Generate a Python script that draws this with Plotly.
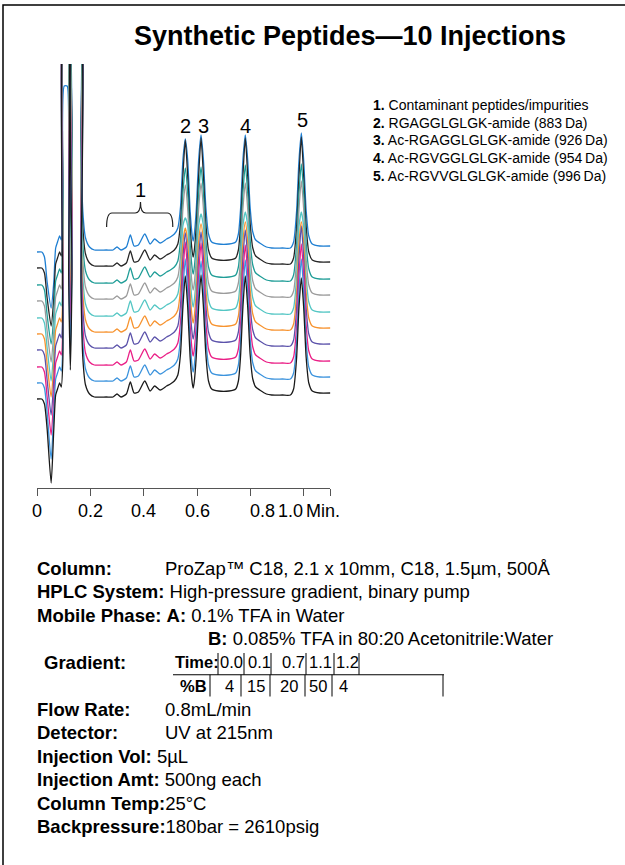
import plotly.graph_objects as go

# ------------------------------------------------------------------ data
# retention-time grid of the chromatogram (min) and the signal of the
# lowest injection above its own baseline (detector units)
time_min = [0.000, 0.018, 0.028, 0.038, 0.053, 0.063, 0.070, 0.077, 0.085, 0.091,
            0.097, 0.102, 0.113, 0.119, 0.125, 0.131, 0.137, 0.159, 0.165, 0.172,
            0.182, 0.197, 0.215, 0.260, 0.285, 0.300, 0.315, 0.335, 0.350, 0.364,
            0.380, 0.404, 0.424, 0.441, 0.462, 0.486, 0.500, 0.515, 0.528, 0.538,
            0.547, 0.556, 0.565, 0.574, 0.582, 0.5855, 0.589, 0.597, 0.606, 0.615,
            0.624, 0.633, 0.643, 0.655, 0.680, 0.720, 0.745, 0.755, 0.763, 0.772,
            0.781, 0.790, 0.799, 0.809, 0.820, 0.835, 0.860, 0.880, 0.920, 0.950,
            0.962, 0.973, 0.982, 0.991, 1.000, 1.009, 1.019, 1.032, 1.060, 1.100]
signal = [0, 0, -5, -30, -84, -30, 4, 10, 16, 12,
          40, 400, 400, 120, 29, 120, 400, 400, 110, 40,
          14, 5, 2, 2, 2, 5, 2, 5, 17, 6,
          7, 18, 8, 13, 9, 13, 15, 18, 24, 45,
          92, 122, 92, 42, 16, 11, 16, 42, 92, 122,
          92, 45, 18, 10, 8, 8, 10, 18, 42, 92,
          123, 92, 45, 20, 12, 9, 5, 4, 4, 4,
          10, 40, 91, 121, 91, 42, 16, 8, 6, 6]

# 10 injections, listed from the lowest trace to the top trace
injection_offset = [89, 105, 121, 138, 154, 170, 187, 203, 220, 236]
dip_depth = [84, 76, 68, 65, 63, 63, 61, 59, 58, 56]
void_peak_height = [400, 400, 400, 400, 400, 400, 400, 400, 400, 166]
peak_apex = [  # peaks 2, 3, 4, 5
    [123, 124, 123, 121],
    [124, 122, 123, 124],
    [125, 124, 122, 123],
    [117, 118, 120, 124],
    [106, 110, 112, 112],
    [100, 104, 106, 106],
    [116, 118, 118, 120],
    [117, 118, 120, 121],
    [128, 130, 130, 131],
    [113, 117, 117, 119],
]
trace_colors = ["#1a1a1a", "#3b93dd", "#ea1f86", "#5b52aa", "#f7932f",
                "#54c6c4", "#9b9b9b", "#1f9d97", "#262626", "#1f7fd2"]

tick_vals = [0, 0.2, 0.4, 0.6, 0.8, 1.0, 1.1]
tick_label_text = ["0", "0.2", "0.4", "0.6", "0.8", "1.0"]
tick_label_at = [0, 0.2, 0.4, 0.6, 0.844, 0.949]

peak_numbers = ["2", "3", "4", "5"]
peak_number_time = [0.558, 0.625, 0.780, 0.997]
peak_number_level = [362, 362, 362, 368]

legend_num = ["1.", "2.", "3.", "4.", "5."]
legend_txt = ["Contaminant peptides/impurities",
              "RGAGGLGLGK-amide (883\u2009Da)",
              "Ac-RGAGGLGLGK-amide (926\u2009Da)",
              "Ac-RGVGGLGLGK-amide (954\u2009Da)",
              "Ac-RGVVGLGLGK-amide (996\u2009Da)"]

cond_labels = ["Column:", "HPLC System:", "Mobile Phase:", "", "Gradient:", "",
               "Flow Rate:", "Detector:", "Injection Vol:", "Injection Amt:",
               "Column Temp:", "Backpressure:"]
cond_values = ["ProZap\u2122 C18, 2.1 x 10mm, C18, 1.5\u00b5m, 500\u00c5",
               " High-pressure gradient, binary pump",
               " <b>A:</b> 0.1% TFA in Water",
               "<b>B:</b> 0.085% TFA in 80:20\u2009Acetonitrile:Water",
               "", "",
               "0.8mL/min", "UV at 215nm", " 5\u00b5L", " 500ng each",
               "25\u00b0C", "180bar = 2610psig"]
grad_time = ["0.0", "0.1", "0.7", "1.1", "1.2"]
grad_B = ["4", "15", "20", "50", "4"]

# ------------------------------------------------------------------ layout helpers
W, H = 625, 865
FONT = "Liberation Sans, Arial, Helvetica, sans-serif"


def px(x):
    return x / W


def py(y):
    return 1 - y / H


i_dip = time_min.index(0.053)
i_void = [time_min.index(0.102), time_min.index(0.113)]
i_apex = [time_min.index(t) for t in (0.556, 0.615, 0.781, 0.991)]

fig = go.Figure()
order = list(range(len(injection_offset)))[::-1]  # top trace drawn first
for k in order:
    h = list(signal)
    h[i_dip] = -dip_depth[k]
    for i in i_void:
        h[i] = void_peak_height[k]
    for j, i in enumerate(i_apex):
        h[i] = peak_apex[k][j]
    y = [injection_offset[k] + v for v in h]
    fig.add_trace(go.Scatter(
        x=time_min, y=y, mode="lines",
        line=dict(color=trace_colors[k], width=1.3, shape="spline", smoothing=0.6),
        hoverinfo="skip", showlegend=False))

x0 = 37.0
x1 = x0 + 293.4
y_top, y_bot = 64, 488
dom = [px(x0), px(x1)]
fig.update_layout(
    width=W, height=H, margin=dict(l=0, r=0, t=0, b=0),
    paper_bgcolor="white", plot_bgcolor="white", showlegend=False,
    font=dict(family=FONT, color="black"),
    xaxis=dict(domain=dom, range=[0, 1.1], showgrid=False,
               zeroline=False, showline=True, linecolor="#555", linewidth=1,
               ticks="outside", ticklen=7, tickcolor="#555", tickwidth=1,
               tickvals=tick_vals, showticklabels=False),
    yaxis=dict(domain=[1 - y_bot / H, 1 - y_top / H], range=[0, 424],
               visible=False),
)

ann = []
shapes = []
# x tick labels (set by the axis scale)
for t, lab in zip(tick_label_at, tick_label_text):
    ann.append(dict(text=lab, x=t, y=py(511), xref="x", yref="paper", showarrow=False,
                    xanchor="center", yanchor="middle", font=dict(size=18, family=FONT)))
ann.append(dict(text="Min.", x=px(304), y=py(511), xref="paper", yref="paper",
                showarrow=False, xanchor="left", yanchor="middle",
                font=dict(size=18, family=FONT)))
# frame
shapes.append(dict(type="rect", xref="paper", yref="paper",
                   x0=px(3), x1=px(660), y0=py(900), y1=py(5),
                   line=dict(color="black", width=1.5)))
# title
ann.append(dict(text="<b>Synthetic Peptides\u201410 Injections</b>", x=px(350), y=py(36),
                xref="paper", yref="paper", showarrow=False, xanchor="center",
                yanchor="middle", font=dict(size=27, family=FONT)))
# bracket over the impurities
shapes.append(dict(type="path", xref="x", yref="y",
                   path="M 0.261,261 Q 0.261,275 0.281,275 L 0.368,275 "
                        "Q 0.388,275 0.388,286 Q 0.388,275 0.408,275 "
                        "L 0.489,275 Q 0.509,275 0.509,261",
                   line=dict(color="#222", width=1.2)))
ann.append(dict(text="1", x=0.389, y=298, xref="x", yref="y", showarrow=False,
                xanchor="center", yanchor="middle", font=dict(size=20, family=FONT)))
for lab, t, lv in zip(peak_numbers, peak_number_time, peak_number_level):
    ann.append(dict(text=lab, x=t, y=lv, xref="x", yref="y", showarrow=False,
                    xanchor="center", yanchor="middle", font=dict(size=20, family=FONT)))
# peak legend
for i, (n, t) in enumerate(zip(legend_num, legend_txt)):
    ann.append(dict(text=f"<b>{n}</b> {t}", x=px(371), y=py(105 + 17.7 * i),
                    xref="paper", yref="paper", showarrow=False, xanchor="left",
                    yanchor="middle", font=dict(size=14, family=FONT)))
# conditions block
FS = 18.5
rows = [568 + 23.5 * i for i in range(12)]
value_x = [163, None, None, 206, None, None, 163, 163, None, None, None, None]
LX = 35
for i, (lab, val) in enumerate(zip(cond_labels, cond_values)):
    if lab and val and value_x[i] is not None:
        ann.append(dict(text=f"<b>{lab}</b>", x=px(LX), y=py(rows[i]), xref="paper",
                        yref="paper", showarrow=False, xanchor="left", yanchor="middle",
                        font=dict(size=FS, family=FONT)))
        ann.append(dict(text=val, x=px(value_x[i]), y=py(rows[i]), xref="paper",
                        yref="paper", showarrow=False, xanchor="left", yanchor="middle",
                        font=dict(size=FS, family=FONT)))
    elif lab and val:
        ann.append(dict(text=f"<b>{lab}</b>{val}", x=px(LX), y=py(rows[i]),
                        xref="paper", yref="paper", showarrow=False, xanchor="left",
                        yanchor="middle", font=dict(size=FS, family=FONT)))
    elif val:
        ann.append(dict(text=val, x=px(value_x[i]), y=py(rows[i]), xref="paper",
                        yref="paper", showarrow=False, xanchor="left", yanchor="middle",
                        font=dict(size=FS, family=FONT)))
# gradient table
r_t, r_b = rows[4], rows[5]
TS = 16.5
ann.append(dict(text="<b>Gradient:</b>", x=px(42), y=py(r_t), xref="paper", yref="paper",
                showarrow=False, xanchor="left", yanchor="middle", font=dict(size=FS)))
ann.append(dict(text="<b>Time:</b>", x=px(173), y=py(r_t), xref="paper", yref="paper",
                showarrow=False, xanchor="left", yanchor="middle", font=dict(size=TS)))
ann.append(dict(text="<b>%B</b>", x=px(178), y=py(r_b), xref="paper", yref="paper",
                showarrow=False, xanchor="left", yanchor="middle", font=dict(size=TS)))
time_cx = [231, 259, 293, 321, 347]
b_cx = [229, 256, 289, 318, 343]
for v, cx in zip(grad_time, time_cx):
    ann.append(dict(text=v, x=px(cx), y=py(r_t), xref="paper", yref="paper",
                    showarrow=False, xanchor="center", yanchor="middle", font=dict(size=TS)))
for v, cx in zip(grad_B, b_cx):
    ann.append(dict(text=v, x=px(cx), y=py(r_b), xref="paper", yref="paper",
                    showarrow=False, xanchor="center", yanchor="middle", font=dict(size=TS)))
mid = (r_t + r_b) / 2 + 1
shapes.append(dict(type="line", xref="paper", yref="paper", x0=px(173), x1=px(444),
                   y0=py(mid), y1=py(mid), line=dict(color="black", width=1)))
for bx in [218, 244, 271, 306, 334, 359]:
    shapes.append(dict(type="line", xref="paper", yref="paper", x0=px(bx), x1=px(bx),
                       y0=py(r_t - 9), y1=py(mid), line=dict(color="black", width=1)))
for bx in [210, 241, 270, 305, 332, 443]:
    shapes.append(dict(type="line", xref="paper", yref="paper", x0=px(bx), x1=px(bx),
                       y0=py(mid), y1=py(r_b + 11), line=dict(color="black", width=1)))

fig.update_layout(annotations=ann, shapes=shapes)
fig.write_html("out.html", config={"displayModeBar": False},
               post_script="document.body.style.margin='0px';")
